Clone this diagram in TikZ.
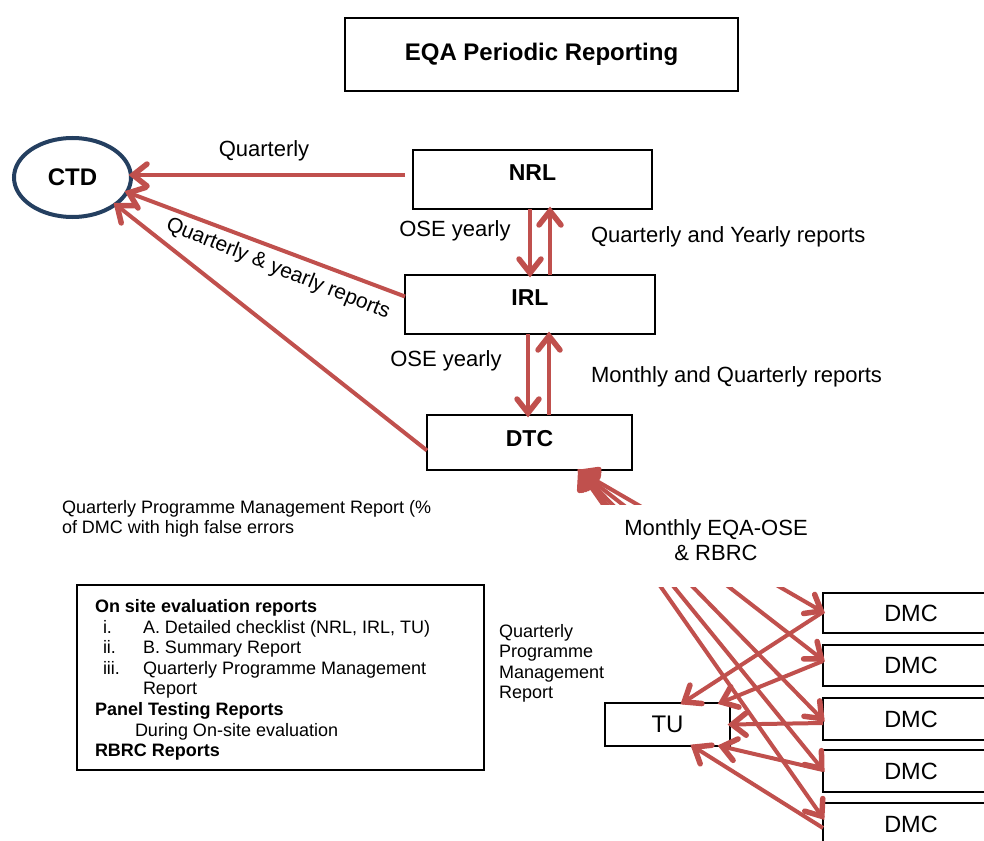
\documentclass[tikz,border=0pt]{standalone}
\usepackage{fontspec}
\setmainfont{Liberation Sans}
\usetikzlibrary{arrows.meta,shapes.geometric,calc,decorations.markings}
\definecolor{arrred}{HTML}{C0504D}
\definecolor{ctdblue}{HTML}{243F60}
\begin{document}
\begin{tikzpicture}[x=1pt,y=-1pt,
  every node/.style={inner sep=0pt, outer sep=0pt},
  f22/.style={font=\fontsize{22}{25}\selectfont},
  f18/.style={font=\fontsize{18}{20.5}\selectfont},
  b18/.style={font=\bfseries\fontsize{18}{20.5}\selectfont},
  box/.style={draw, line width=1.8pt},
  chev/.style={draw=arrred, line width=5.5pt, line join=miter, line cap=round},
  conn/.style={draw=arrred, line width=4pt, postaction={decorate, decoration={markings,
     mark=at position 1 with {\draw[chev] (-16pt,11pt) -- (-2pt,0pt) -- (-16pt,-11pt);}}}},
  conn2/.style={draw=arrred, line width=4pt, postaction={decorate, decoration={markings,
     mark=at position 0 with {\draw[chev] (16pt,11pt) -- (2pt,0pt) -- (16pt,-11pt);},
     mark=at position 1 with {\draw[chev] (-16pt,11pt) -- (-2pt,0pt) -- (-16pt,-11pt);}}}},
]
\useasboundingbox (0,0) rectangle (984,840);

% title
\node[box, minimum width=393pt, minimum height=73pt, font=\bfseries\fontsize{24}{28}\selectfont] (title) at (541.5,54.5) {EQA Periodic Reporting};

% main nodes
\node[ellipse, draw=ctdblue, line width=4pt, minimum width=117pt, minimum height=79pt, font=\bfseries\fontsize{24}{28}\selectfont] (CTD) at (72.5,177.5) {CTD};
\node[box, minimum width=239pt, minimum height=59pt, text depth=13pt, font=\bfseries\fontsize{23}{27}\selectfont] (NRL) at (532.5,179.5) {NRL};
\node[box, minimum width=250pt, minimum height=59pt, text depth=13pt, font=\bfseries\fontsize{23}{27}\selectfont] (IRL) at (530,304.5) {IRL};
\node[box, minimum width=205pt, minimum height=55pt, text depth=9pt, font=\bfseries\fontsize{23}{27}\selectfont] (DTC) at (529.5,442.5) {DTC};
\node[box, minimum width=125pt, minimum height=43pt, font=\fontsize{24}{28}\selectfont] (TU) at (667.5,724.5) {TU};

\begin{scope}
\clip (0,0) rectangle (984,840);
\node[box, minimum width=176pt, minimum height=40pt, font=\fontsize{23.5}{28}\selectfont] (D1) at (911,613) {DMC};
\node[box, minimum width=176pt, minimum height=41pt, font=\fontsize{23.5}{28}\selectfont] (D2) at (911,665.5) {DMC};
\node[box, minimum width=176pt, minimum height=42pt, font=\fontsize{23.5}{28}\selectfont] (D3) at (911,719) {DMC};
\node[box, minimum width=176pt, minimum height=42pt, font=\fontsize{23.5}{28}\selectfont] (D4) at (911,771) {DMC};
\node[box, minimum width=176pt, minimum height=42pt, font=\fontsize{23.5}{28}\selectfont] (D5) at (911,824) {DMC};
\end{scope}

% arrows to CTD
\draw[conn] ([xshift=-8pt,yshift=4.5pt]NRL.west) -- ([yshift=2.5pt]CTD.east);
\draw[conn] ([yshift=8pt]IRL.west) -- (CTD.-15);
\draw[conn] ([yshift=-8pt]DTC.west) -- (CTD.-32);

% vertical arrows
\draw[conn] (IRL.north |- NRL.south) -- (IRL.north);
\draw[conn] ([xshift=20pt]IRL.north) -- ([xshift=20pt]IRL.north |- NRL.south);
\draw[conn] ([xshift=-2pt]IRL.south) -- ([xshift=-2pt]IRL.south |- DTC.north);
\draw[conn] ([xshift=19pt]IRL.south |- DTC.north) -- ([xshift=19pt]IRL.south);

% DTC <-> DMC
\coordinate (dtcpt) at ([xshift=50pt,yshift=-1pt]DTC.south);
\draw[conn2] (dtcpt) -- ([yshift=1pt]D1.west);
\draw[conn2] (dtcpt) -- ([yshift=5.5pt]D2.west);
\draw[conn2] (dtcpt) -- ([yshift=-1pt]D3.west);
\draw[conn2] (dtcpt) -- ([yshift=1pt]D4.west);
\draw[conn2] (dtcpt) -- ([yshift=6pt]D5.west);

% DMC -> TU
\draw[conn] ([yshift=1pt]D1.west) -- ([xshift=15pt]TU.north);
\draw[conn] ([yshift=4.5pt]D2.west) -- ([xshift=-10pt]TU.north east);
\draw[conn] ([yshift=-4pt]D3.west) -- (TU.east);
\draw[conn] ([yshift=1pt]D4.west) -- ([xshift=-10pt]TU.south east);
\draw[conn] ([yshift=-4pt]D5.west) -- ([xshift=25pt]TU.south);

% occluder and label
\fill[white] (585,505) rectangle (845,587);
\node[f22, align=center] (lblmon) at (716,540.5) {Monthly EQA-OSE\\\& RBRC};

% labels
\node[f22] (lblq) at (264,151) {Quarterly};
\node[font=\fontsize{21}{24}\selectfont, rotate=-22] (lblqy) at (278,269) {Quarterly \& yearly reports};
\node[f22] (lblose1) at (455,231) {OSE yearly};
\node[f22] (lblose2) at (446,361) {OSE yearly};
\node[f22, anchor=west] (lblqyr) at (591,237) {Quarterly and Yearly reports};
\node[f22, anchor=west] (lblmqr) at (591,377) {Monthly and Quarterly reports};
\node[f18, align=left, anchor=north west] (lblqpm) at (62,500) {Quarterly Programme Management Report (\%\\of DMC with high false errors};
\node[f18, align=left, anchor=north west] (lblqpm2) at (499,624) {Quarterly\\Programme\\Management\\Report};

% bottom-left box
\node[draw, line width=2.4pt, minimum width=407pt, minimum height=185pt] (repbox) at (280.5,677.5) {};
\node[b18, anchor=base west] (r1) at (95,612.5) {On site evaluation reports};
\node[f18, anchor=base west] (r2a) at (103,633.5) {i.};
\node[f18, anchor=base west] (r2b) at (143,633.5) {A. Detailed checklist (NRL, IRL, TU)};
\node[f18, anchor=base west] (r3a) at (103,653.5) {ii.};
\node[f18, anchor=base west] (r3b) at (143,653.5) {B. Summary Report};
\node[f18, anchor=base west] (r4a) at (103,674.5) {iii.};
\node[f18, anchor=base west] (r4b) at (143,674.5) {Quarterly Programme Management};
\node[f18, anchor=base west] (r5) at (143,694.5) {Report};
\node[b18, anchor=base west] (r6) at (95,715.5) {Panel Testing Reports};
\node[f18, anchor=base west] (r7) at (135,736.5) {During On-site evaluation};
\node[b18, anchor=base west] (r8) at (95,756.5) {RBRC Reports};
\end{tikzpicture}
\end{document}
